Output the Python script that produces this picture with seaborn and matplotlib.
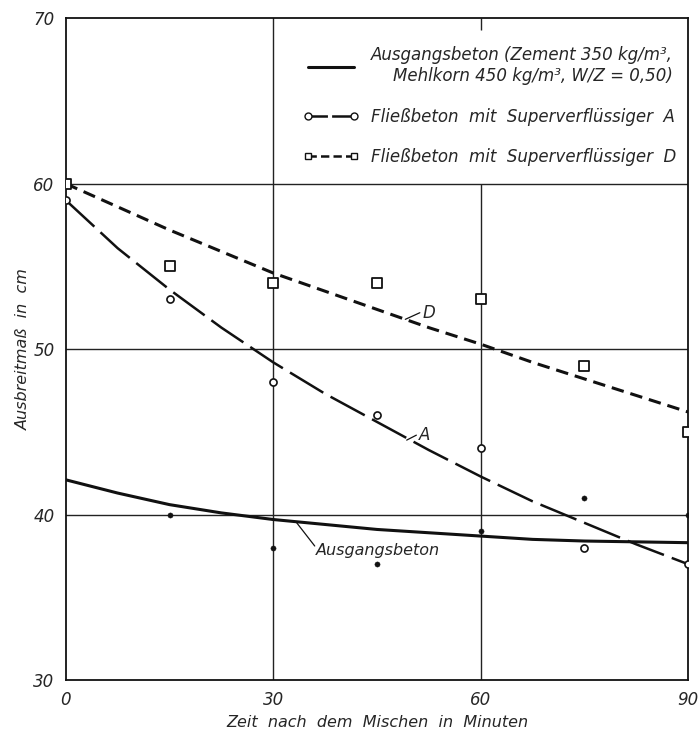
import matplotlib
matplotlib.use('Agg')
import matplotlib.pyplot as plt
import seaborn as sns
import pandas as pd
from matplotlib.lines import Line2D

# measured points (Ausbreitmass in cm) over time after mixing (min)
zeit = [0, 15, 30, 45, 60, 75, 90]
zeit_basis = [15, 30, 45, 60, 75, 90]
basis_punkte = [40, 38, 37, 39, 41, 40]
a_punkte = [59, 53, 48, 46, 44, 38, 37]
d_punkte = [60, 55, 54, 54, 53, 49, 45]

# fitted curves
kurve_zeit = [0, 7.5, 15, 22.5, 30, 37.5, 45, 52.5, 60, 67.5, 75, 82.5, 90]
basis_kurve = [42.1, 41.3, 40.6, 40.1, 39.7, 39.4, 39.1, 38.9, 38.7, 38.5, 38.4, 38.35, 38.3]
a_kurve = [59.0, 56.1, 53.6, 51.3, 49.2, 47.3, 45.6, 43.9, 42.3, 40.8, 39.5, 38.2, 37.0]
d_kurve = [60.0, 58.6, 57.2, 55.9, 54.6, 53.5, 52.4, 51.3, 50.3, 49.2, 48.2, 47.2, 46.2]

kurven = pd.DataFrame({'zeit': kurve_zeit, 'basis': basis_kurve,
                       'A': a_kurve, 'D': d_kurve})

sns.set_style('white')
plt.rcParams['font.family'] = ['DejaVu Sans']
plt.rcParams['font.style'] = 'italic'
plt.rcParams['lines.scale_dashes'] = False

fig = plt.figure(figsize=(7, 7.3), dpi=100)
ax = fig.add_axes([0.094, 0.0685, 0.889, 0.9065])

# grid drawn by hand, the x=60 line stops under the legend
for y in [40, 50, 60]:
    ax.axhline(y, color='#222222', lw=1.0, zorder=1)
ax.axvline(30, color='#222222', lw=1.0, zorder=1)
ax.vlines(60, 30, 60, color='#222222', lw=1.0, zorder=1)
ax.vlines(60, 69.3, 70, color='#222222', lw=1.0, zorder=1)

ink = '#111111'
sns.lineplot(data=kurven, x='zeit', y='basis', color=ink, lw=2.2, ax=ax)
sns.lineplot(data=kurven, x='zeit', y='A', color=ink, lw=1.8, ax=ax,
             linestyle=(0, (28, 6)))
sns.lineplot(data=kurven, x='zeit', y='D', color=ink, lw=2.2, ax=ax,
             linestyle=(0, (9, 5)))

sns.scatterplot(x=zeit_basis, y=basis_punkte, color=ink, s=14, marker='o',
                ax=ax, zorder=5, edgecolor=ink)
sns.scatterplot(x=zeit, y=a_punkte, facecolor='white', edgecolor=ink, s=26,
                marker='o', linewidth=1.2, ax=ax, zorder=5)
sns.scatterplot(x=zeit, y=d_punkte, facecolor='white', edgecolor=ink, s=60,
                marker='s', linewidth=1.3, ax=ax, zorder=5)

# curve labels with leader lines
ax.plot([49.1, 51.2], [51.8, 52.2], color=ink, lw=0.9)
ax.text(51.6, 52.2, 'D', fontsize=12, va='center', ha='left')
ax.plot([49.3, 50.7], [44.5, 44.8], color=ink, lw=0.9)
ax.text(51.0, 44.8, 'A', fontsize=12, va='center', ha='left')
ax.plot([33.4, 36.0], [39.5, 38.1], color=ink, lw=0.9)
ax.text(36.2, 37.8, 'Ausgangsbeton', fontsize=11.5, va='center', ha='left')

ax.set_xlim(0, 90)
ax.set_ylim(30, 70)
ax.set_xticks([0, 30, 60, 90])
ax.set_yticks([30, 40, 50, 60, 70])
ax.tick_params(length=0, labelsize=12, pad=8)
for lab in ax.get_xticklabels() + ax.get_yticklabels():
    lab.set_style('italic')
ax.set_xlabel('Zeit  nach  dem  Mischen  in  Minuten', fontsize=11.5, labelpad=4)
ax.set_ylabel('Ausbreitmaß  in  cm', fontsize=11.5, labelpad=2)
for sp in ax.spines.values():
    sp.set_color(ink)
    sp.set_linewidth(1.3)

handles = [
    Line2D([], [], color=ink, lw=2.2),
    Line2D([], [], color=ink, lw=1.8, linestyle=(0, (14, 3)), marker='o',
           markersize=5, markerfacecolor='white'),
    Line2D([], [], color=ink, lw=1.8, linestyle=(0, (6, 3)), marker='s',
           markersize=5, markerfacecolor='white'),
]
labels = [
    'Ausgangsbeton (Zement 350 kg/m³,\nMehlkorn 450 kg/m³, W/Z = 0,50)',
    'Fließbeton  mit  Superverflüssiger  A',
    'Fließbeton  mit  Superverflüssiger  D',
]
leg = ax.legend(handles, labels, loc='upper right', bbox_to_anchor=(1.005, 0.98),
                numpoints=2, handlelength=3.4, fontsize=12, frameon=False,
                labelspacing=1.35, handletextpad=0.7)
leg.get_texts()[0].set_multialignment('right')

fig.savefig('out.png', dpi=100)
